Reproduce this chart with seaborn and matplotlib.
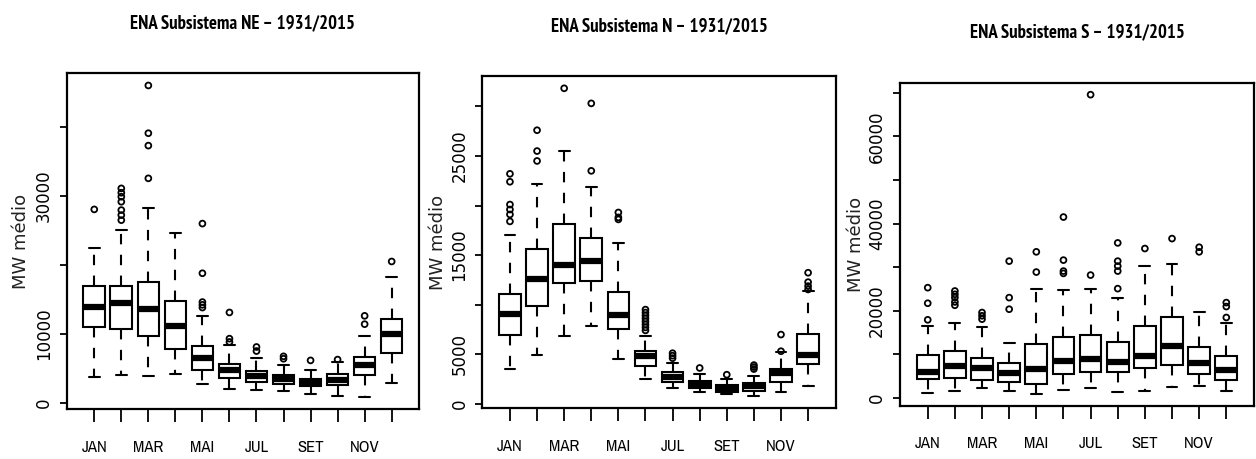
import numpy as np
import pandas as pd
import matplotlib
matplotlib.use("Agg")
import matplotlib.pyplot as plt
from matplotlib import font_manager as fm
import seaborn as sns

# Months (Portuguese abbreviations) and the labels printed under the x axis
MESES = ["JAN", "FEV", "MAR", "ABR", "MAI", "JUN", "JUL", "AGO", "SET", "OUT", "NOV", "DEZ"]
ROTULOS_X = ["JAN", "", "MAR", "", "MAI", "", "JUL", "", "SET", "", "NOV", ""]

# ---- Subsistema NE: box statistics per month (MW médio) ----
ne_min = [3700, 3940, 3840, 4090, 2730, 2000, 1850, 1650, 1270, 920, 880, 2870]
ne_q1 = [10950, 10750, 9640, 7830, 4770, 3600, 3020, 2730, 2380, 2580, 3940, 7200]
ne_med = [13920, 14400, 13530, 11090, 6470, 4670, 3800, 3360, 2920, 3310, 5400, 10020]
ne_q3 = [16930, 16930, 17570, 14740, 8270, 5640, 4570, 3940, 3410, 4090, 6620, 12120]
ne_max = [22430, 25110, 28190, 24620, 12600, 8320, 6470, 5400, 4670, 5890, 9640, 18200]
ne_out = [
    [28050],
    [31100, 30470, 29890, 29160, 27950, 27220, 26490],
    [46040, 39110, 37310, 32560],
    [],
    [25990, 18780, 14600, 14200, 13800],
    [13090, 9290, 8810],
    [8080, 7490],
    [6720, 6370],
    [6130],
    [6250],
    [12600, 11390],
    [20490],
]
ne_yticks = [0, 10000, 20000, 30000, 40000]
ne_ylabels = ["0", "10000", "", "30000", ""]

# ---- Subsistema N ----
n_min = [3540, 4960, 6810, 7820, 4520, 2500, 1580, 1150, 980, 810, 1180, 1750]
n_q1 = [6980, 9910, 12140, 12370, 7550, 3840, 2190, 1550, 1210, 1310, 2160, 4050]
n_med = [9100, 12540, 13960, 14400, 8930, 4790, 2700, 1960, 1620, 1750, 3100, 4960]
n_q3 = [11030, 15640, 18110, 16760, 11260, 5360, 3170, 2290, 1890, 2090, 3510, 7080]
n_max = [17030, 22220, 25520, 21890, 16180, 6880, 4110, 3030, 2500, 2830, 5190, 11360]
n_out = [
    [23200, 22400, 20100, 19600, 19100, 18400],
    [27600, 25500, 24500],
    [31830],
    [30310, 23500],
    [19300, 18800, 18600],
    [9500, 9200, 8900, 8600, 8300, 8000, 7700, 7400],
    [5100, 4850, 4600],
    [3610],
    [2930],
    [3900, 3700, 3500],
    [6980, 5300],
    [13220, 12270, 11870, 11530],
]
n_yticks = [0, 5000, 10000, 15000, 20000, 25000, 30000]
n_ylabels = ["0", "5000", "", "15000", "", "25000", ""]

# ---- Subsistema S ----
s_min = [1220, 1520, 2280, 1600, 990, 1830, 2280, 1370, 1520, 2510, 2740, 1520]
s_q1 = [4410, 4560, 4030, 3650, 3270, 5550, 5930, 5930, 6840, 7610, 5550, 4030]
s_med = [6080, 7300, 6840, 5780, 6690, 8440, 8970, 8210, 9730, 12020, 8060, 6540]
s_q3 = [9890, 10720, 9130, 8060, 12400, 14070, 14450, 12780, 16580, 18630, 11710, 9730]
s_max = [16430, 17190, 16200, 12620, 25100, 24790, 24940, 23040, 30270, 30650, 19850, 17190]
s_out = [
    [25320, 21750, 17950],
    [24560, 23800, 23040, 22050, 21290],
    [19620, 18870, 18100],
    [31410, 23040, 20380],
    [33540, 28900],
    [41520, 31640, 29130, 28600],
    [69590, 28210],
    [35590, 31410, 30270, 29130, 25100],
    [34300],
    [36580],
    [34600, 33540],
    [21900, 20990, 18480],
]
s_yticks = [0, 10000, 20000, 30000, 40000, 50000, 60000, 70000]
s_ylabels = ["0", "", "20000", "", "40000", "", "60000", ""]

sns.set_style("ticks")
plt.rcParams["font.family"] = ["Liberation Sans", "DejaVu Sans"]


def fonte_estreita(negrito):
    """Return the file of an installed narrow sans face, or None."""
    achadas = []
    for f in fm.fontManager.ttflist:
        nome = (f.name + " " + f.fname).lower()
        estreita = ("narrow" in nome or "condensed" in nome
                    or str(f.stretch) in ("condensed", "semi-condensed", "extra-condensed"))
        if not estreita or "mono" in nome or "serif" in nome.replace("sans-serif", "") or f.style != "normal":
            continue
        peso = f.weight if isinstance(f.weight, int) else (700 if "bold" in str(f.weight) else 400)
        if negrito and not (600 <= peso <= 750):
            continue
        if not negrito and not (350 <= peso <= 550):
            continue
        prioridade = 0 if ("narrow" in nome) else 1
        achadas.append((prioridade, f.fname))
    achadas.sort()
    return achadas[0][1] if achadas else None


arq_titulo = fonte_estreita(True)
arq_rotulo = fonte_estreita(False)
if arq_titulo:
    fp_titulo = fm.FontProperties(fname=arq_titulo, size=13.5)
else:
    fp_titulo = fm.FontProperties(family=["Liberation Sans", "DejaVu Sans"], weight="bold", size=10.5)
if arq_rotulo:
    fp_mes = fm.FontProperties(fname=arq_rotulo, size=12)
else:
    fp_mes = fm.FontProperties(family=["Liberation Sans", "DejaVu Sans"], size=11)

fig = plt.figure(figsize=(12.56, 4.59), dpi=100)

painel_pos = [
    [0.0531, 0.1089, 0.2807, 0.7320],
    [0.3840, 0.1111, 0.2814, 0.7233],
    [0.7166, 0.1161, 0.2818, 0.7037],
]
ylabel_x = [-0.130, -0.125, -0.124]

paineis = [
    ("ENA Subsistema NE – 1931/2015", ne_min, ne_q1, ne_med, ne_q3, ne_max, ne_out, ne_yticks, ne_ylabels),
    ("ENA Subsistema N – 1931/2015", n_min, n_q1, n_med, n_q3, n_max, n_out, n_yticks, n_ylabels),
    ("ENA Subsistema S – 1931/2015", s_min, s_q1, s_med, s_q3, s_max, s_out, s_yticks, s_ylabels),
]

for pos, lx, (titulo, vmin, q1, med, q3, vmax, outs, yt, yl) in zip(painel_pos, ylabel_x, paineis):
    ax = fig.add_axes(pos)

    # five-number summary per month, one row per statistic
    caixas = pd.DataFrame(
        [(m, v) for m, a, b, c, d, e in zip(MESES, vmin, q1, med, q3, vmax) for v in (a, b, c, d, e)],
        columns=["mes", "valor"],
    )
    atipicos = pd.DataFrame(
        [(m, v) for m, lista in zip(MESES, outs) for v in lista],
        columns=["mes", "valor"],
    )

    sns.boxplot(
        data=caixas, x="mes", y="valor", order=MESES, ax=ax,
        whis=(0, 100), width=0.8, showfliers=False,
        color="white", linecolor="black", linewidth=1.5,
        whiskerprops={"linestyle": (0, (5, 5)), "color": "black"},
        capprops={"linestyle": "-", "color": "black"},
        medianprops={"linewidth": 4.5, "color": "black", "solid_capstyle": "butt"},
        boxprops={"edgecolor": "black", "facecolor": "white"},
    )
    n_col = len(ax.collections)
    sns.stripplot(
        data=atipicos, x="mes", y="valor", order=MESES, ax=ax,
        jitter=False, color="black", size=4.2, linewidth=1.3, edgecolor="black",
    )
    for col in ax.collections[n_col:]:
        col.set_facecolor("none")
        col.set_edgecolor("black")

    # axis limits padded by 4% of the data range
    todos = list(vmin) + list(vmax) + [v for lista in outs for v in lista]
    lo, hi = min(todos), max(todos)
    pad = 0.04 * (hi - lo)
    ax.set_ylim(lo - pad, hi + pad)
    ax.set_xlim(-1.02, len(MESES) + 0.02)

    ax.set_xticks(range(len(MESES)))
    ax.set_xticklabels(ROTULOS_X, fontproperties=fp_mes)
    ax.set_yticks(yt)
    ax.set_yticklabels(yl, fontsize=12, fontfamily="DejaVu Sans", rotation=90, va="center")
    ax.tick_params(axis="x", bottom=True, direction="out", length=9, width=1.3, pad=13, colors="black")
    ax.tick_params(axis="y", left=True, direction="out", length=5, width=1.3, pad=5, colors="black")
    ax.set_xlabel("")
    ax.set_ylabel("")

    for sp in ax.spines.values():
        sp.set_visible(True)
        sp.set_color("black")
        sp.set_linewidth(1.6)

    ax.text(lx, 0.5, "MW médio", transform=ax.transAxes, rotation=90,
            ha="center", va="center", fontsize=13, fontfamily="DejaVu Sans", color="#222222")
    ax.annotate(titulo, xy=(0.5, 1.0), xycoords="axes fraction", xytext=(0, 36),
                textcoords="offset points", ha="center", va="center",
                fontproperties=fp_titulo, color="black")

fig.savefig("out.png", dpi=100, facecolor="white")
